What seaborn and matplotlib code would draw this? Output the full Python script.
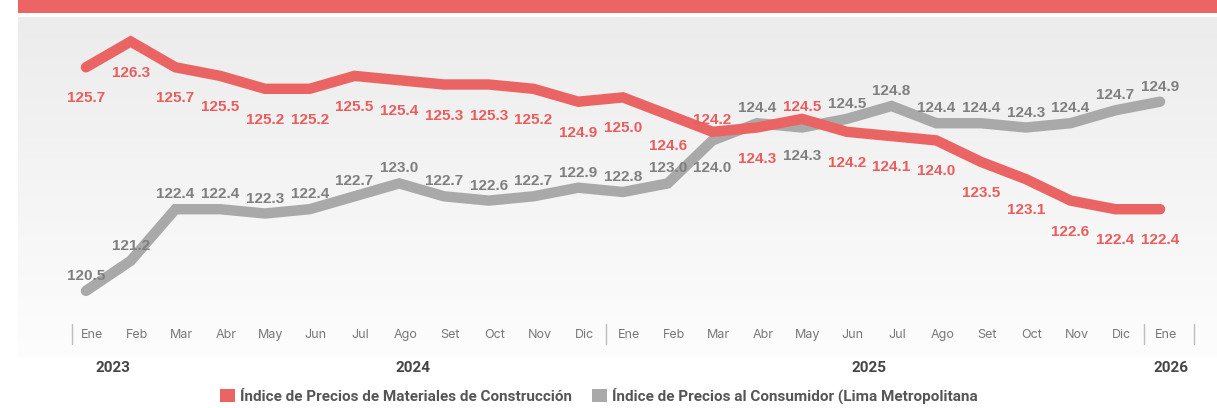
import matplotlib.pyplot as plt
import matplotlib.transforms as mtransforms
from matplotlib.patches import Patch, Rectangle
import numpy as np
import pandas as pd
import seaborn as sns

sns.set_style("white")

# data
months = ['Ene', 'Feb', 'Mar', 'Abr', 'May', 'Jun', 'Jul', 'Ago', 'Set', 'Oct', 'Nov', 'Dic',
          'Ene', 'Feb', 'Mar', 'Abr', 'May', 'Jun', 'Jul', 'Ago', 'Set', 'Oct', 'Nov', 'Dic',
          'Ene']
years = ['2023', '2024', '2025', '2026']
ipmc = [125.7, 126.3, 125.7, 125.5, 125.2, 125.2, 125.5, 125.4, 125.3, 125.3, 125.2, 124.9,
        125.0, 124.6, 124.2, 124.3, 124.5, 124.2, 124.1, 124.0, 123.5, 123.1, 122.6, 122.4,
        122.4]
ipc = [120.5, 121.2, 122.4, 122.4, 122.3, 122.4, 122.7, 123.0, 122.7, 122.6, 122.7, 122.9,
       122.8, 123.0, 124.0, 124.4, 124.3, 124.5, 124.8, 124.4, 124.4, 124.3, 124.4, 124.7,
       124.9]
name_ipmc = 'Índice de Precios de Materiales de Construcción'
name_ipc = 'Índice de Precios al Consumidor (Lima Metropolitana'

red = '#EB6464'
red_txt = '#EB5C5C'
grey = '#A9A9A9'
grey_txt = '#7F7F7F'

# label placement tweaks (index where label flips side)
ipmc_flip = {14, 16}
ipc_flip = {14, 16}

W, H = 1217, 408
fig = plt.figure(figsize=(W / 100, H / 100), dpi=100)
fig.patch.set_facecolor('white')

# background gradient panel
bg = fig.add_axes([18 / W, 1 - 358 / H, 1 - 18 / W, (358 - 17) / H])
grad = np.linspace(0, 1, 256).reshape(-1, 1)
bg.imshow(grad, aspect='auto', cmap=sns.blend_palette(['#ececec', '#fdfdfd'], as_cmap=True),
          extent=[0, 1, 0, 1], origin='upper')
bg.axis('off')

# top banner
fig.patches.append(Rectangle((18 / W, 1 - 12.7 / H), 1 - 18 / W, 12.7 / H,
                             transform=fig.transFigure, facecolor='#EC6464', edgecolor='none'))

ax = fig.add_axes([18 / W, 1 - 318 / H, 1 - 18 / W, (318 - 17) / H])
ax.patch.set_alpha(0)
df = pd.DataFrame({'i': np.arange(len(months)), 'ipmc': ipmc, 'ipc': ipc})
sns.lineplot(data=df, x='i', y='ipc', ax=ax, color=grey, linewidth=7.5,
             solid_capstyle='round', solid_joinstyle='miter')
sns.lineplot(data=df, x='i', y='ipmc', ax=ax, color=red, linewidth=7.5,
             solid_capstyle='round', solid_joinstyle='miter')

pxu = 44.8
ax.set_xlim(-(86 - 18) / pxu, len(months) - 1 + (1217 - 1160) / pxu)
ax.set_ylim(125.7 - (318 - 67.3) / 43, 125.7 + (67.3 - 17) / 43)
for s in ax.spines.values():
    s.set_visible(False)
ax.set_ylabel('')
ax.set_xlabel('')
ax.set_yticks([])

lab_font = dict(family='Liberation Sans', fontsize=11, fontweight='bold', ha='center', va='center')
for k in range(len(months)):
    dy = 12 if k in ipmc_flip else -31
    ax.annotate(f'{ipmc[k]:.1f}', (k, ipmc[k]), xytext=(0, dy), textcoords='offset pixels',
                color=red_txt, **lab_font)
    dy = -28 if k in ipc_flip else 15
    ax.annotate(f'{ipc[k]:.1f}', (k, ipc[k]), xytext=(0, dy), textcoords='offset pixels',
                color=grey_txt, **lab_font)

# month tick labels
ax.set_xticks(range(len(months)))
ax.set_xticklabels(months, family='Inter', fontsize=9, color='#777777')
ax.tick_params(axis='x', length=0, pad=8)
shift = mtransforms.ScaledTranslation(6 / 100, 0, fig.dpi_scale_trans)
for t in ax.get_xticklabels():
    t.set_transform(t.get_transform() + shift)

# group separators
bt = mtransforms.blended_transform_factory(ax.transData, fig.transFigure)
for xs in [-0.31, 11.63, 23.65, 24.75]:
    ax.plot([xs, xs], [1 - 324 / H, 1 - 344 / H], transform=bt, color='#bdbdbd',
            linewidth=1, clip_on=False)

# year labels
for yr, xp in zip(years, [0.6, 7.3, 17.5, 24.24]):
    ax.text(xp, 1 - 368 / H, yr, transform=bt, ha='center', va='center', family='Roboto',
            fontsize=11, fontweight='bold', color='#454545')

# legend
handles = [Patch(facecolor=red, edgecolor='none', label=name_ipmc),
           Patch(facecolor=grey, edgecolor='none', label=name_ipc)]
fig.legend(handles=handles, loc='center left', bbox_to_anchor=(220 / W, 1 - 396 / H), ncol=2,
           frameon=False, handlelength=0.95, handleheight=0.95, handletextpad=0.35,
           columnspacing=1.35, borderpad=0, borderaxespad=0,
           prop=dict(family='Roboto', weight='bold', size=11), labelcolor='#555555')

fig.savefig('out.png', dpi=100, facecolor='white')
